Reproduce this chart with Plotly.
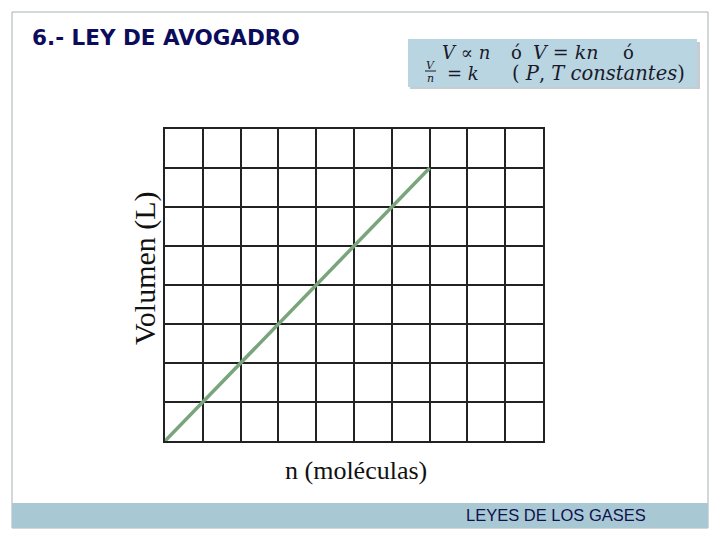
import plotly.graph_objects as go

n_values = [0, 1, 2, 3, 4, 5, 6, 7]
v_values = [0, 1, 2, 3, 4, 5, 6, 7]
x_range = [0, 10]
y_range = [0, 8]

OFF = 8  # default page body margin
W, H = 720 - 2 * OFF, 540 - 2 * OFF
# plot area in page pixels
L, R, T, B = 165, 543, 129, 441

def px(x):
    return (x - L) / (R - L)

def py(y):
    return (B - y) / (B - T)

fig = go.Figure()
fig.add_trace(go.Scatter(x=n_values, y=v_values, mode="lines",
                         line=dict(color="#7aa57c", width=3.5),
                         hoverinfo="skip", showlegend=False))

shapes = [
    dict(type="rect", xref="paper", yref="paper", x0=px(12), x1=px(708), y0=py(528), y1=py(12),
         line=dict(color="#a6b0b6", width=1), fillcolor="rgba(0,0,0,0)", layer="below"),
    dict(type="rect", xref="paper", yref="paper", x0=px(12), x1=px(708), y0=py(528), y1=py(503),
         line=dict(width=0), fillcolor="#a8c8d4", layer="below"),
    dict(type="rect", xref="paper", yref="paper", x0=px(410), x1=px(700), y0=py(89), y1=py(42),
         line=dict(width=0), fillcolor="#c6cdd1", layer="below"),
    dict(type="rect", xref="paper", yref="paper", x0=px(408), x1=px(697), y0=py(87), y1=py(39),
         line=dict(width=0), fillcolor="#b9d5e2", layer="below"),
    dict(type="line", xref="paper", yref="paper", x0=px(425), x1=px(436), y0=py(71), y1=py(71),
         line=dict(color="#1a1a2a", width=1)),
]

mf = "DejaVu Serif"
mc = "#1a1a2a"
ann = [
    dict(text="<b>6.- LEY DE AVOGADRO</b>", x=px(30), y=py(38), xanchor="left", yanchor="middle",
         font=dict(family="DejaVu Sans", size=21.5, color="#0c0c5c")),
    dict(text="LEYES DE LOS GASES", x=px(556), y=py(515), xanchor="center", yanchor="middle",
         font=dict(family="Liberation Sans", size=16.5, color="#101050")),
    dict(text="<i>V</i> ∝ <i>n</i>", x=px(440), y=py(52), xanchor="left", yanchor="middle",
         font=dict(family=mf, size=18, color=mc)),
    dict(text="ó", x=px(516), y=py(52), xanchor="center", yanchor="middle",
         font=dict(family=mf, size=18, color=mc)),
    dict(text="<i>V</i> = <i>kn</i>", x=px(531), y=py(52), xanchor="left", yanchor="middle",
         font=dict(family=mf, size=19, color=mc)),
    dict(text="ó", x=px(628), y=py(52), xanchor="center", yanchor="middle",
         font=dict(family=mf, size=18, color=mc)),
    dict(text="<i>V</i>", x=px(430.5), y=py(65), xanchor="center", yanchor="middle",
         font=dict(family=mf, size=11, color=mc)),
    dict(text="<i>n</i>", x=px(430.5), y=py(78.5), xanchor="center", yanchor="middle",
         font=dict(family=mf, size=11, color=mc)),
    dict(text="= <i>k</i>", x=px(445), y=py(74), xanchor="left", yanchor="middle",
         font=dict(family=mf, size=18, color=mc)),
    dict(text="( <i>P</i>, <i>T constantes</i>)", x=px(510), y=py(74), xanchor="left", yanchor="middle",
         font=dict(family=mf, size=19.5, color=mc)),
    dict(text="n (moléculas)", x=px(356), y=py(470), xanchor="center", yanchor="middle",
         font=dict(family="Liberation Serif", size=26, color="#111")),
    dict(text="Volumen (L)", x=px(145), y=py(268), xanchor="center", yanchor="middle", textangle=-90,
         font=dict(family="Liberation Serif", size=30, color="#111")),
]
for a in ann:
    a.update(xref="paper", yref="paper", showarrow=False)

axis_common = dict(showgrid=True, gridcolor="#222222", gridwidth=1.5, showline=True, linecolor="#222222",
                   linewidth=1.5, mirror=True, zeroline=False, showticklabels=False, ticks="",
                   dtick=1, tick0=0, fixedrange=True)

fig.update_layout(
    width=W, height=H,
    margin=dict(l=L - OFF, r=W - (R - OFF), t=T - OFF, b=H - (B - OFF)),
    paper_bgcolor="white", plot_bgcolor="white",
    xaxis=dict(range=x_range, **axis_common),
    yaxis=dict(range=y_range, **axis_common),
    shapes=shapes, annotations=ann, showlegend=False,
)

fig.write_html("out.html")
